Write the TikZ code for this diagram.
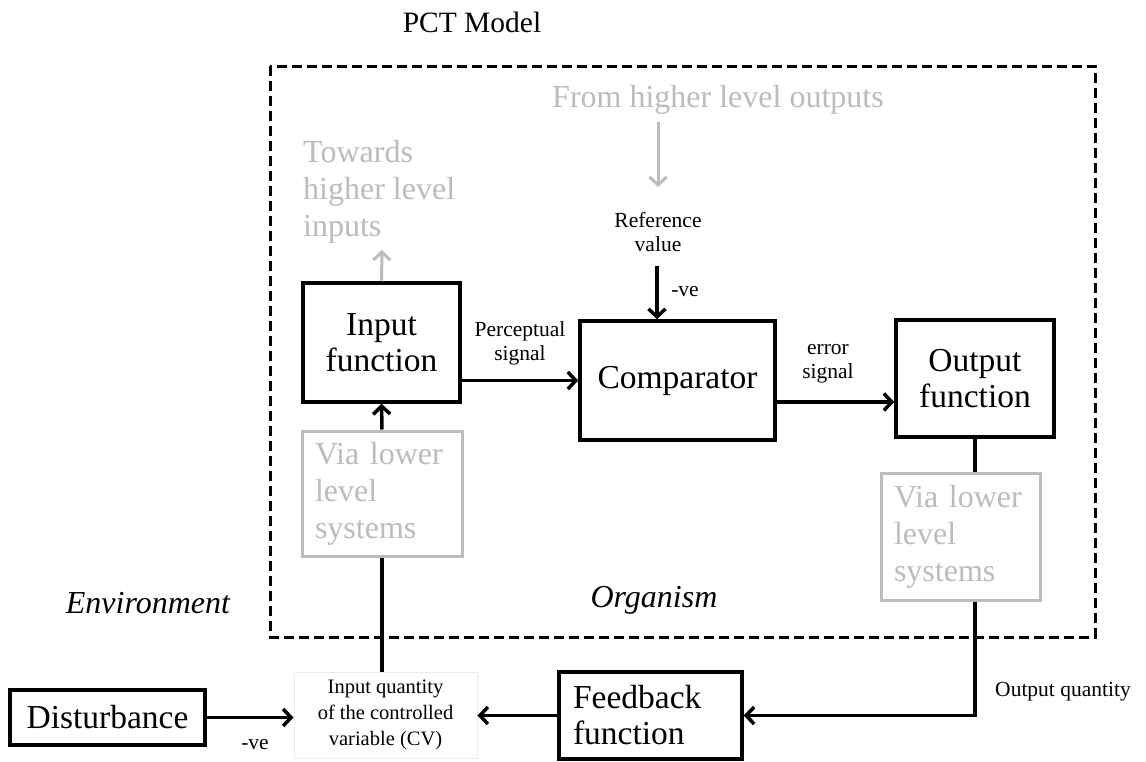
\documentclass[tikz,border=0pt]{standalone}
\usepackage{fontspec}
\setmainfont{Liberation Serif}
\usetikzlibrary{arrows.meta}
\definecolor{lightgr}{RGB}{188,188,188}
\definecolor{faintgr}{RGB}{236,236,236}
\newcommand{\fbig}{\fontsize{33.5}{36}\selectfont}
\newcommand{\fital}{\fontsize{32}{36}\selectfont\itshape}
\newcommand{\fgray}{\fontsize{32}{37}\selectfont}
\newcommand{\fsmall}{\fontsize{21.5}{24}\selectfont}
\newcommand{\fcv}{\fontsize{20.5}{26}\selectfont}
\newcommand{\fttl}{\fontsize{29.5}{32}\selectfont}
\begin{document}
\begin{tikzpicture}[x=1pt,y=-1pt,
  blk/.style={draw=black,line width=3.5pt,inner sep=0pt,align=center,font=\fbig},
  gbox/.style={draw=lightgr,line width=3pt,inner xsep=13pt,inner ysep=0pt,align=left,font=\fgray,text=lightgr},
  arr/.style={line width=3.5pt,-{Straight Barb[length=8pt,width=17pt]}},
  garr/.style={line width=3pt,draw=lightgr,-{Straight Barb[length=8pt,width=17pt]}},
  ln/.style={line width=3.5pt},
  small/.style={font=\fsmall,align=center,inner sep=0pt},
  gtext/.style={font=\fgray,text=lightgr,inner sep=0pt}
]
\useasboundingbox (0,0) rectangle (1146,761);
\fill[white] (0,0) rectangle (1146,761);

% organism boundary
\draw[line width=3pt,dash pattern=on 10pt off 5pt] (270,66) rectangle (1095,637);

% titles and labels
\node[font=\fttl,inner sep=0pt] (pct) at (472,22) {PCT Model};
\node[font=\fital,inner sep=0pt] (env) at (148,603) {Environment};
\node[font=\fital,inner sep=0pt] (org) at (654,600) {Organism};

% gray texts
\node[gtext] (from) at (718,100) {From higher level outputs};
\node[gtext,align=left,anchor=west] (tow) at (303,192) {Towards\\higher level\\inputs};

% boxes
\node[blk,minimum width=157pt,minimum height=119pt] (inp) at (381.5,342.5) {Input\\function};
\node[blk,minimum width=195pt,minimum height=119pt] (comp) at (677.5,380.5) {Comparator};
\node[blk,minimum width=158pt,minimum height=117pt] (out) at (975,378.5) {Output\\function};
\node[gbox,minimum width=160pt,minimum height=125pt,text width=134pt] (via1) at (382,493.5) {Via lower\\level\\systems};
\node[gbox,minimum width=159pt,minimum height=127pt,text width=133pt] (via2) at (960.5,536.5) {Via lower\\level\\systems};
\node[draw=faintgr,line width=1pt,minimum width=183pt,minimum height=86pt,inner sep=0pt,align=center,font=\fcv] (cv) at (385.5,715) {Input quantity\\of the controlled\\variable (CV)};
\node[blk,minimum width=195pt,minimum height=55pt] (dist) at (107.5,717.5) {Disturbance};
\node[blk,minimum width=183pt,minimum height=87pt,align=left,inner xsep=14pt,text width=155pt] (fb) at (650.5,715.5) {Feedback\\function};

% small labels
\node[small] (ref) at (658,232) {Reference\\value};
\node[small] (neg1) at (685,292) {-ve};
\node[small] (ps) at (520,343) {Perceptual\\signal};
\node[small] (es) at (828,364) {error\\signal};
\node[small] (oq) at (1063,692) {Output quantity};
\node[small] (neg2) at (255,745) {-ve};

% coordinates
\coordinate (g1) at (658,122);
\coordinate (g2) at (658,187);
\coordinate (g3) at (382,250);
\coordinate (rs) at (657,266);
\coordinate (ey) at (0,402);

% connectors
\draw[garr] (g1) -- (g2);
\draw[garr] (inp.north) -- (g3);
\draw[arr] (rs) -- (rs |- comp.north);
\draw[arr] (inp.east |- comp.west) -- (comp.west);
\draw[arr] (comp.east |- ey) -- (out.west |- ey);
\draw[ln] (out.south) -- (out.south |- via2.north);
\draw[arr] (out.south |- via2.south) -- (out.south |- fb.east) -- (fb.east);
\draw[arr] (via1.north) -- (inp.south);
\draw[ln] (via1.south) -- (via1.south |- cv.north);
\draw[arr] (dist.east) -- (cv.west |- dist.east);
\draw[arr] (fb.west) -- (cv.east |- fb.west);
\end{tikzpicture}
\end{document}
